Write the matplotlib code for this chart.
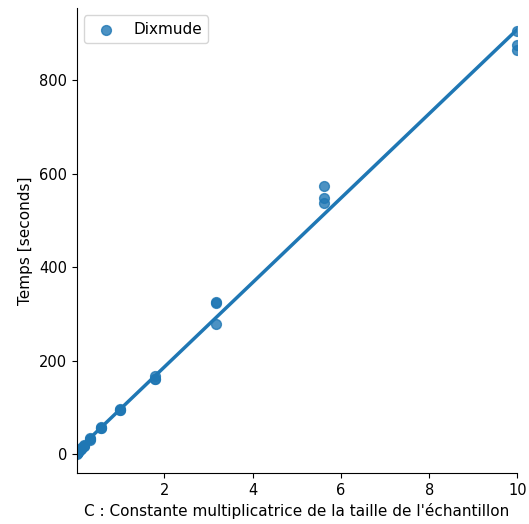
import numpy as np
import matplotlib
matplotlib.use("Agg")
import matplotlib.pyplot as plt
import seaborn as sns

# sample size multiplier C and measured run times (3 runs each)
c_values = [0.01, 0.0178, 0.0316, 0.0562, 0.1, 0.178, 0.316, 0.562, 1.0, 1.78, 3.16, 5.62, 10.0]
run1 = [3, 5, 7, 9, 13, 20, 35, 58, 97, 168, 326, 575, 906]
run2 = [3, 4, 6, 9, 12, 19, 33, 57, 95, 162, 324, 548, 875]
run3 = [2, 4, 6, 8, 12, 18, 32, 57, 95, 162, 280, 538, 865]

x = np.array(c_values * 3)
y = np.array(run1 + run2 + run3)

fig, ax = plt.subplots(figsize=(5.29, 5.24), dpi=100)
sns.regplot(x=x, y=y, ci=None, ax=ax, label="Dixmude",
            scatter_kws={"s": 50}, line_kws={"lw": 2.5})
ax.set_xlim(0.01, 10)
ax.set_ylim(-40, 955)
ax.spines["top"].set_visible(False)
ax.spines["right"].set_visible(False)
ax.tick_params(labelsize=10.5)
ax.set_xlabel("C : Constante multiplicatrice de la taille de l'échantillon", fontsize=11)
ax.set_ylabel("Temps [seconds]", fontsize=11)
ax.legend(loc="upper left", fontsize=11)
fig.subplots_adjust(left=0.145, right=0.978, top=0.985, bottom=0.097)
fig.savefig("out.png")
